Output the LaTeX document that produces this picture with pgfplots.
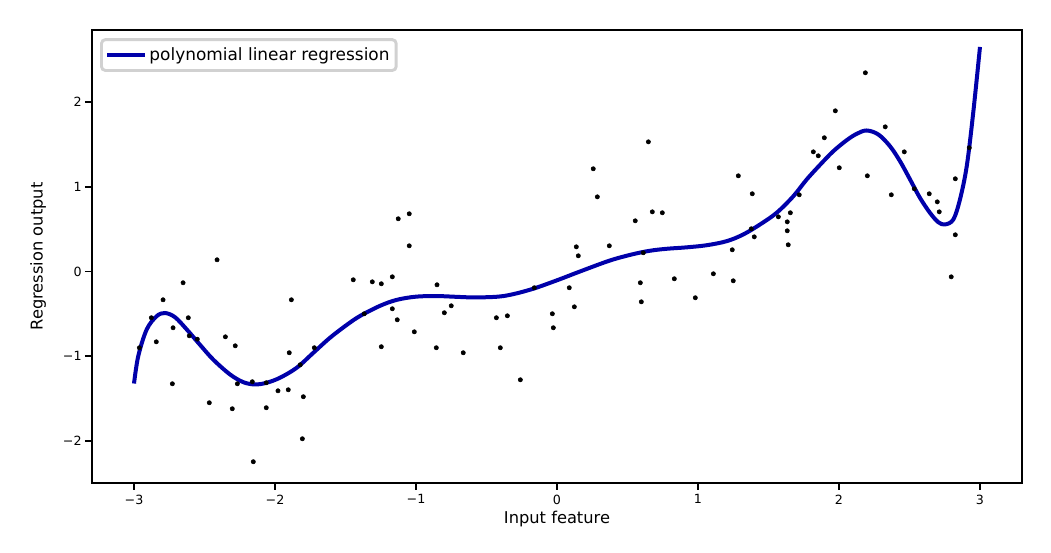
\documentclass[border=0pt]{standalone}
\usepackage{fontspec}
\setmainfont{DejaVu Sans}
\usepackage{pgfplots}
\pgfplotsset{compat=1.18}
\definecolor{cblue}{HTML}{0000AA}
\begin{document}
\begin{tikzpicture}[x=1pt,y=1pt]
\begin{axis}[
  name=ax,
  scale only axis,
  width=697.5pt, height=339.75pt,
  xmin=-3.298, xmax=3.298,
  ymin=-2.496, ymax=2.85,
  axis line style={line width=1.4pt},
  tick pos=left,
  xtick={-3,-2,-1,0,1,2,3},
  xticklabels={−3,−2,−1,0,1,2,3},
  ytick={-2,-1,0,1,2},
  yticklabels={−2,−1,0,1,2},
  tick style={line width=1.4pt, black},
  tick align=outside,
  major tick length=5.25pt,
  ticklabel style={font=\fontsize{9.5}{11}\selectfont},
  xticklabel style={yshift=0pt},
  yticklabel style={xshift=1pt},
  xlabel={Input feature},
  ylabel={Regression output},
  label style={font=\fontsize{12.2}{14}\selectfont},
  xlabel style={at={(axis description cs:0.5,-0.052)}, anchor=north},
  ylabel style={at={(axis description cs:-0.058,0.5)}, anchor=center},
  legend style={at={(axis description cs:0.0086,0.982)}, anchor=north west,
    draw=black!18, line width=2.2pt, rounded corners=3pt, fill=white,
    font=\fontsize{12.7}{14}\selectfont, inner xsep=3pt, inner ysep=4pt},
  legend cell align=left,
  legend image code/.code={\draw[#1, line width=3pt] (0pt,0pt) -- (28pt,0pt);},
  clip=false,
]
\addplot[cblue, line width=3pt, smooth, tension=0.55] coordinates {
(-3.000,-1.322) (-2.970,-0.999) (-2.910,-0.684) (-2.839,-0.527) (-2.780,-0.490)
(-2.709,-0.540) (-2.626,-0.684) (-2.532,-0.865) (-2.438,-1.040) (-2.319,-1.215)
(-2.225,-1.306) (-2.142,-1.333) (-2.059,-1.313) (-1.965,-1.254) (-1.846,-1.136)
(-1.728,-0.959) (-1.610,-0.782) (-1.491,-0.630) (-1.397,-0.525) (-1.255,-0.405)
(-1.137,-0.335) (-1.000,-0.297) (-0.850,-0.290) (-0.700,-0.300) (-0.570,-0.306)
(-0.381,-0.290) (-0.191,-0.215) (-0.002,-0.105) (0.163,0.000) (0.376,0.130)
(0.541,0.205) (0.660,0.245) (0.778,0.268) (0.920,0.285) (1.062,0.310)
(1.204,0.358) (1.321,0.437) (1.440,0.555) (1.558,0.693) (1.676,0.888)
(1.771,1.086) (1.872,1.270) (1.960,1.420) (2.055,1.550) (2.126,1.625)
(2.196,1.664) (2.279,1.617) (2.362,1.478) (2.433,1.301) (2.504,1.086)
(2.574,0.870) (2.645,0.693) (2.704,0.582) (2.752,0.555) (2.811,0.614)
(2.858,0.850) (2.906,1.242) (2.952,1.873) (3.000,2.650)
};
\addlegendentry{polynomial linear regression}
\addplot[only marks, mark=*, mark size=1.6pt, black, forget plot] coordinates {
(-2.411,0.138) (-2.652,-0.133) (-2.794,-0.334) (-2.877,-0.546) (-2.615,-0.546)
(-2.723,-0.664) (-2.962,-0.900) (-2.842,-0.830) (-2.608,-0.759) (-2.551,-0.799)
(-2.352,-0.771) (-2.282,-0.877) (-2.728,-1.325) (-2.267,-1.325) (-2.161,-1.301)
(-2.062,-1.313) (-1.979,-1.408) (-1.906,-1.396) (-1.884,-0.334) (-1.899,-0.959)
(-1.821,-1.101) (-1.721,-0.900) (-1.799,-1.478) (-2.466,-1.549) (-2.303,-1.620)
(-2.062,-1.608) (-1.806,-1.974) (-2.154,-2.245)
(-1.126,0.622) (-1.048,0.681) (-1.048,0.303) (-1.445,-0.098) (-1.310,-0.122)
(-1.246,-0.145) (-1.168,-0.063) (-0.851,-0.157) (-1.367,-0.499) (-1.168,-0.440)
(-1.133,-0.570) (-1.012,-0.712) (-0.799,-0.487) (-0.750,-0.405) (-1.246,-0.888)
(-0.856,-0.900) (-0.665,-0.959) (-0.430,-0.546) (-0.352,-0.523) (-0.402,-0.900)
(-0.260,-1.278) (-0.161,-0.192) (0.087,-0.192) (0.123,-0.417) (-0.033,-0.499)
(-0.026,-0.664) (0.137,0.291) (0.151,0.185)
(0.648,1.530) (0.257,1.212) (0.286,0.881) (0.555,0.598) (0.676,0.704)
(0.747,0.693) (0.371,0.303) (0.612,0.221) (0.591,-0.133) (0.598,-0.358)
(0.832,-0.086) (0.981,-0.310) (1.109,-0.027) (1.250,-0.110) (1.243,0.256)
(1.286,1.129) (1.385,0.917) (1.378,0.504) (1.399,0.409) (1.570,0.645)
(1.633,0.586) (1.655,0.693) (1.633,0.480) (1.640,0.315) (1.718,0.905)
(2.187,2.345) (1.974,1.896) (1.896,1.578) (1.818,1.412) (1.853,1.365)
(2.002,1.224) (2.201,1.129) (2.328,1.707) (2.463,1.412) (2.371,0.905)
(2.534,0.976) (2.640,0.917) (2.697,0.822) (2.711,0.704) (2.825,1.094)
(2.924,1.460) (2.825,0.433) (2.796,-0.063)
};
\end{axis}
\pgfresetboundingbox
\path ([shift={(-69pt,-52.5pt)}]ax.south west) rectangle ([shift={(21.75pt,22.5pt)}]ax.north east);
\end{tikzpicture}
\end{document}
